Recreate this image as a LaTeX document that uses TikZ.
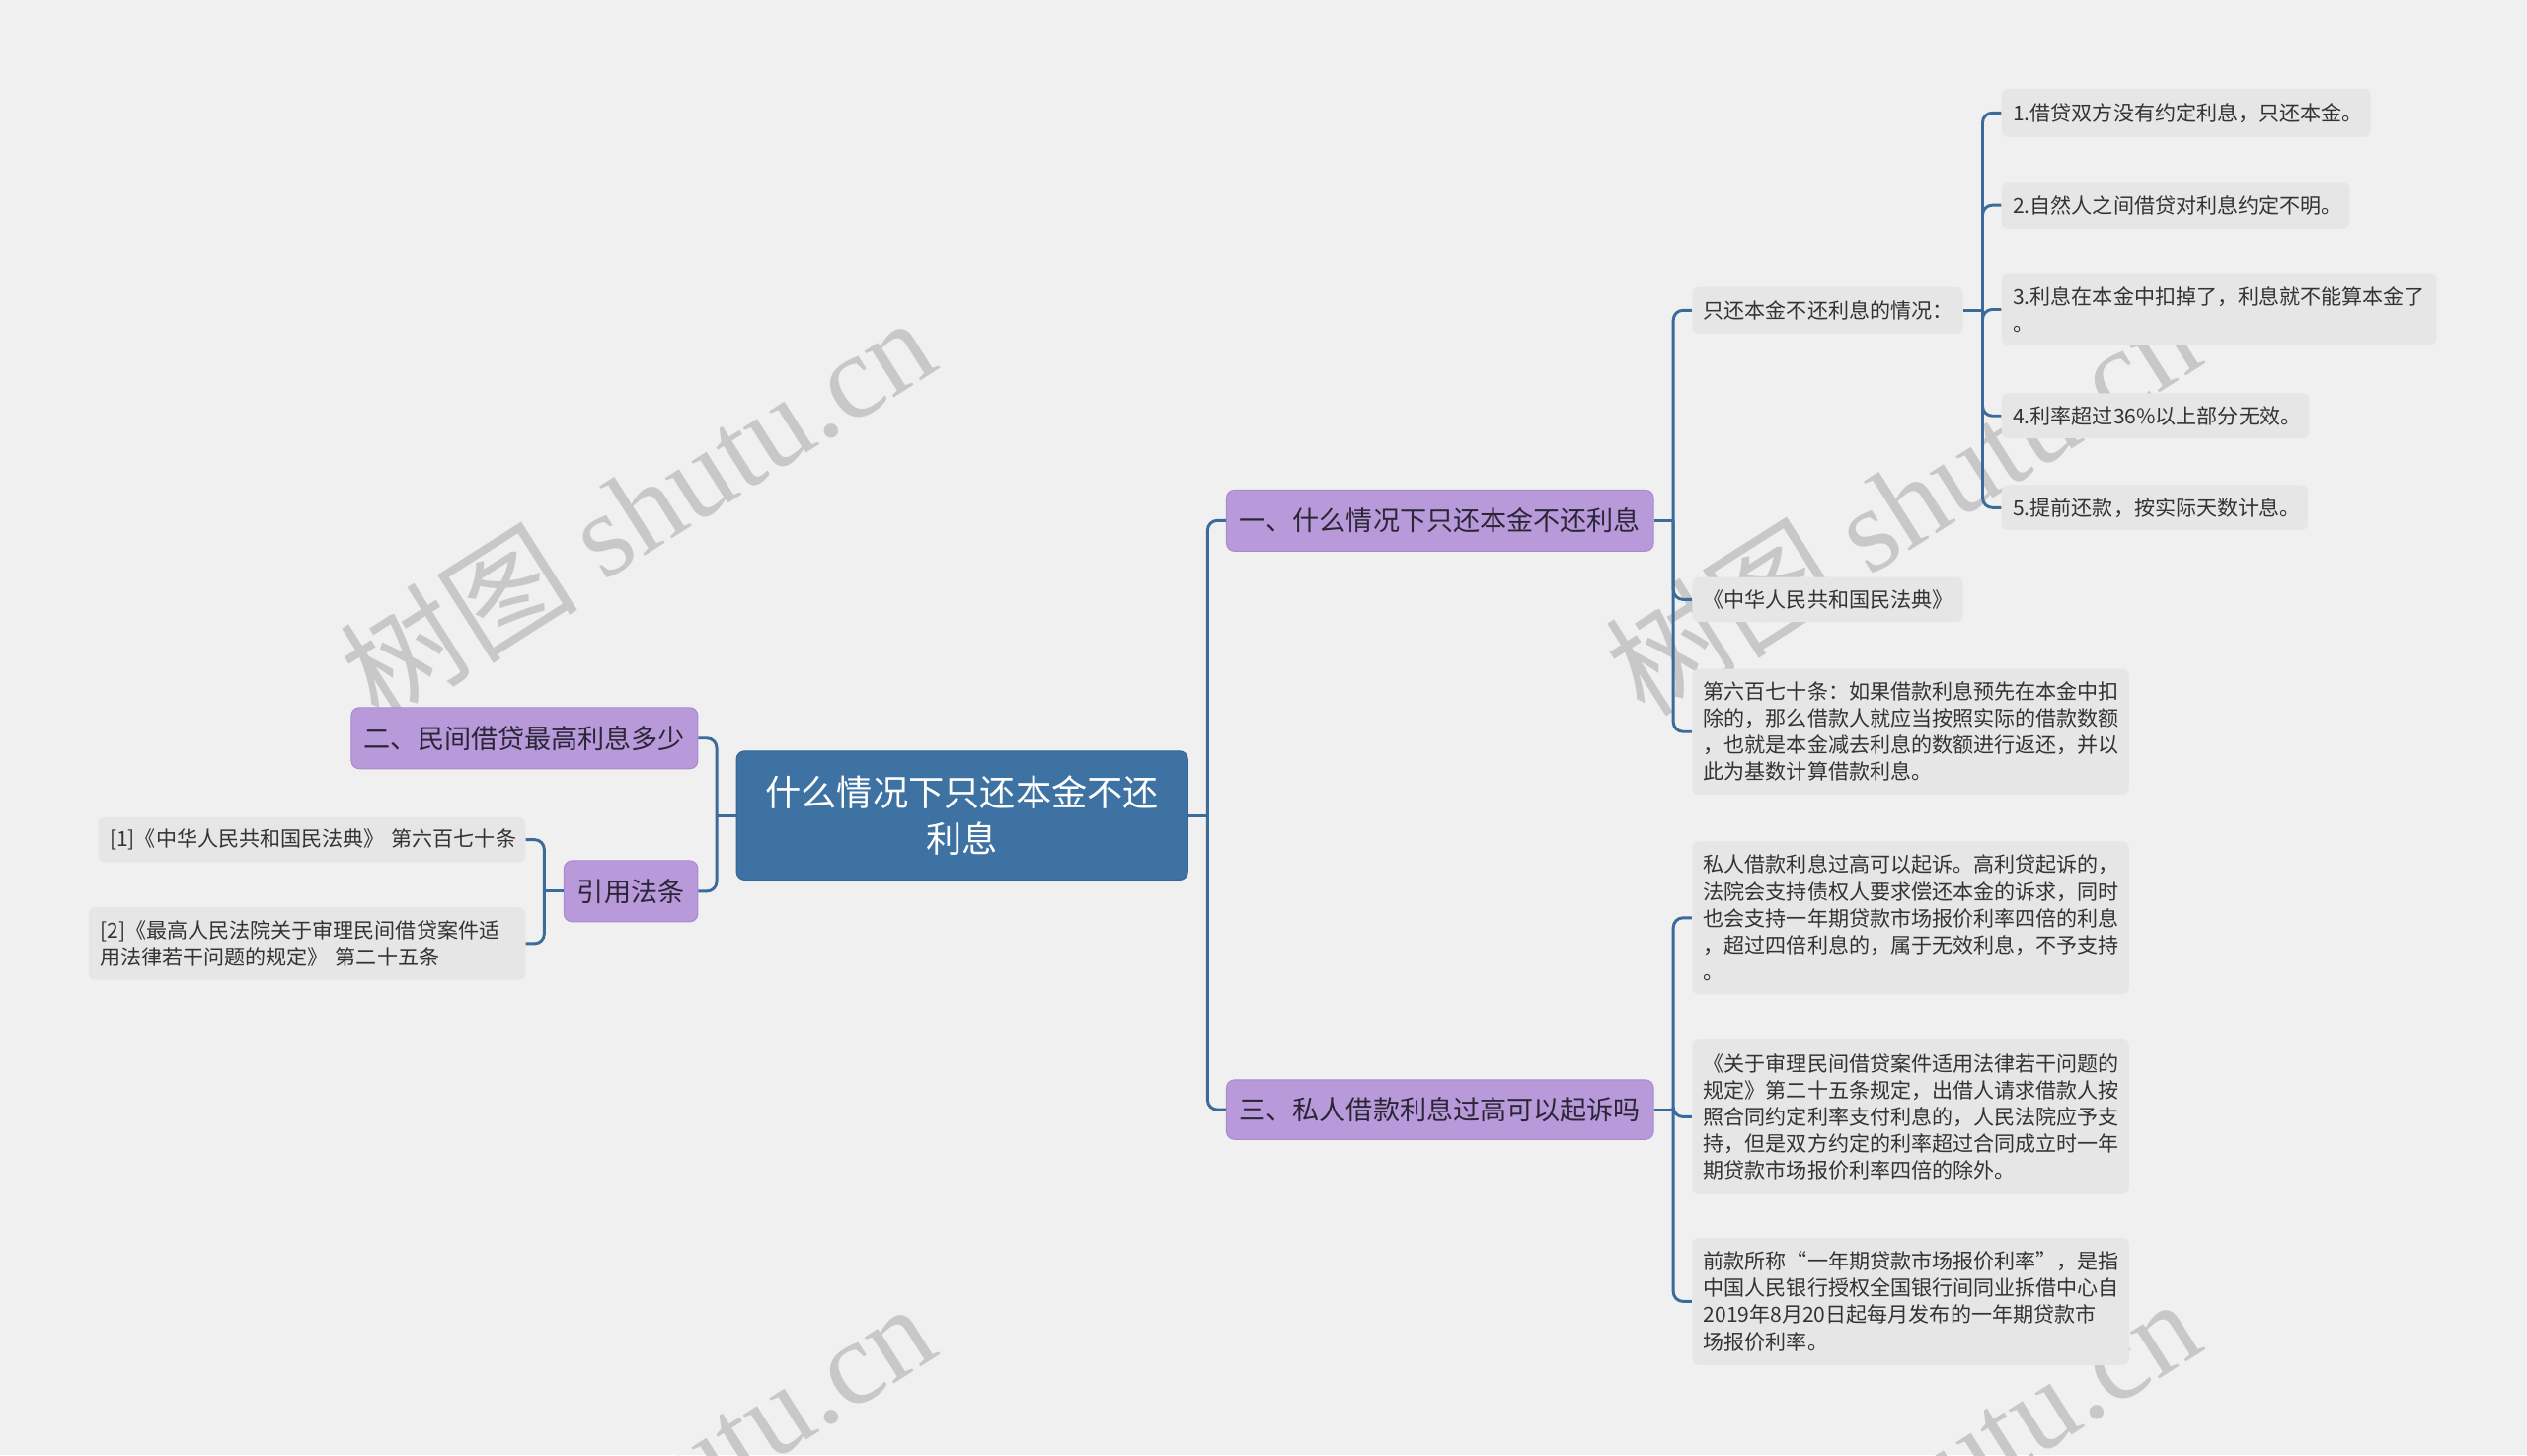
\documentclass[tikz,border=0pt]{standalone}
\usepackage{fontspec}
\setmainfont{Noto Sans CJK SC}
\newfontfamily\wmserif{Liberation Serif}
\usetikzlibrary{calc}
\definecolor{bgc}{HTML}{F0F0F0}
\definecolor{leafc}{HTML}{E6E6E6}
\definecolor{purp}{HTML}{B899DA}
\definecolor{purpd}{HTML}{A98ACC}
\definecolor{ctrc}{HTML}{3E72A3}
\definecolor{ctrd}{HTML}{32669A}
\definecolor{connc}{HTML}{3A6B9A}
\definecolor{txtc}{HTML}{333333}
\definecolor{btxt}{HTML}{2B2636}
\definecolor{wmc}{HTML}{C8C8C8}
\tikzset{
  leafbox/.style={fill=leafc, rounded corners=4pt, inner xsep=7pt, inner ysep=0pt,
    align=left, text=txtc, font=\fontsize{12.9}{16.6}\selectfont},
  branchbox/.style={fill=purp, draw=purpd, line width=0.6pt, rounded corners=5pt,
    inner sep=0pt, align=center, text=btxt, font=\fontsize{16.6}{20}\selectfont},
  ctrbox/.style={fill=ctrc, draw=ctrd, line width=0.6pt, rounded corners=5pt,
    inner sep=0pt, align=center, text=white, font=\fontsize{22.2}{29}\selectfont},
  conn/.style={draw=connc, line width=1.8pt, rounded corners=6pt},
  wmark/.style={text=wmc, font=\fontsize{74}{78}\selectfont, inner sep=0pt}
}
\begin{document}
\begin{tikzpicture}[x=1pt,y=-1pt]
\fill[bgc] (0,0) rectangle (1568,903);
\useasboundingbox (0,0) rectangle (1568,903);

% watermarks
\node[wmark, rotate=32.4] (wm1) at (395,315) {树图 {\wmserif shutu.cn}};
\node[wmark, rotate=32.4] (wm2) at (1180,312) {树图 {\wmserif shutu.cn}};
\node[wmark, rotate=32.4] (wm3) at (395,927) {树图 {\wmserif shutu.cn}};
\node[wmark, rotate=32.4] (wm4) at (1180,924) {树图 {\wmserif shutu.cn}};

% central
\node[ctrbox, minimum width=280pt, minimum height=80pt] (ctr) at (597,506) {什么情况下只还本金不还\\利息};

% branches
\node[branchbox, minimum width=265pt, minimum height=38pt] (b1) at (893.5,323) {一、什么情况下只还本金不还利息};
\node[branchbox, minimum width=265pt, minimum height=37pt] (b3) at (893.5,688.5) {三、私人借款利息过高可以起诉吗};
\node[branchbox, minimum width=215pt, minimum height=38pt] (b2) at (325.5,458) {二、民间借贷最高利息多少};
\node[branchbox, minimum width=83pt, minimum height=38pt] (cite) at (391.5,553) {引用法条};

% leaves under branch 1
\node[leafbox, text width=154pt, minimum height=29pt] (l1) at (1134,192.5) {只还本金不还利息的情况：};
\node[leafbox, text width=154pt, minimum height=28pt] (l2) at (1134,372) {《中华人民共和国民法典》};
\node[leafbox, text width=257pt, minimum height=78pt] (l3) at (1185.5,454) {第六百七十条：如果借款利息预先在本金中扣\\除的，那么借款人就应当按照实际的借款数额\\，也就是本金减去利息的数额进行返还，并以\\此为基数计算借款利息。};

% sub-leaves
\node[leafbox, text width=215pt, minimum height=30pt] (s1) at (1356.5,70) {1.借贷双方没有约定利息，只还本金。};
\node[leafbox, text width=202pt, minimum height=29pt] (s2) at (1350,127.5) {2.自然人之间借贷对利息约定不明。};
\node[leafbox, text width=256pt, minimum height=44pt] (s3) at (1377,192) {3.利息在本金中扣掉了，利息就不能算本金了\\。};
\node[leafbox, text width=177pt, minimum height=28pt] (s4) at (1337.5,258) {4.利率超过36\%以上部分无效。};
\node[leafbox, text width=176pt, minimum height=28pt] (s5) at (1337,315) {5.提前还款，按实际天数计息。};

% leaves under branch 3
\node[leafbox, text width=257pt, minimum height=95pt] (r1) at (1185.5,569.5) {私人借款利息过高可以起诉。高利贷起诉的，\\法院会支持债权人要求偿还本金的诉求，同时\\也会支持一年期贷款市场报价利率四倍的利息\\，超过四倍利息的，属于无效利息，不予支持\\。};
\node[leafbox, text width=257pt, minimum height=96pt] (r2) at (1185.5,693) {《关于审理民间借贷案件适用法律若干问题的\\规定》第二十五条规定，出借人请求借款人按\\照合同约定利率支付利息的，人民法院应予支\\持，但是双方约定的利率超过合同成立时一年\\期贷款市场报价利率四倍的除外。};
\node[leafbox, text width=257pt, minimum height=79pt] (r3) at (1185.5,807.5) {前款所称“一年期贷款市场报价利率”，是指\\中国人民银行授权全国银行间同业拆借中心自\\2019年8月20日起每月发布的一年期贷款市\\场报价利率。};

% citations
\node[leafbox, text width=251pt, minimum height=28pt] (c1) at (193.5,521) {[1]《中华人民共和国民法典》~第六百七十条};
\node[leafbox, text width=257pt, minimum height=45pt] (c2) at (190.5,585.5) {[2]《最高人民法院关于审理民间借贷案件适\\用法律若干问题的规定》~第二十五条};

% connectors: central right
\coordinate (rb) at ([xshift=12pt]ctr.east);
\draw[conn] (ctr.east) -- (rb);
\draw[conn] (rb) |- (b1.west);
\draw[conn] (rb) |- (b3.west);
% central left
\coordinate (lb) at ([xshift=-12pt]ctr.west);
\draw[conn] (ctr.west) -- (lb);
\draw[conn] (lb) |- (b2.east);
\draw[conn] (lb) |- (cite.east);
% branch 1
\coordinate (b1b) at ([xshift=12pt]b1.east);
\draw[conn] (b1.east) -- (b1b);
\draw[conn] (b1b) |- (l1.west);
\draw[conn] (b1b) |- (l2.west);
\draw[conn] (b1b) |- (l3.west);
% leaf 1
\coordinate (l1b) at ([xshift=12pt]l1.east);
\draw[conn] (l1.east) -- (l1b);
\draw[conn] (l1b) |- (s1.west);
\draw[conn] (l1b) |- (s2.west);
\draw[conn] (l1b) |- (s3.west);
\draw[conn] (l1b) |- (s4.west);
\draw[conn] (l1b) |- (s5.west);
% branch 3
\coordinate (b3b) at ([xshift=12pt]b3.east);
\draw[conn] (b3.east) -- (b3b);
\draw[conn] (b3b) |- (r1.west);
\draw[conn] (b3b) |- (r2.west);
\draw[conn] (b3b) |- (r3.west);
% citations
\coordinate (cb) at ([xshift=-12pt]cite.west);
\draw[conn] (cite.west) -- (cb);
\draw[conn] (cb) |- (c1.east);
\draw[conn] (cb) |- (c2.east);
\end{tikzpicture}
\end{document}
